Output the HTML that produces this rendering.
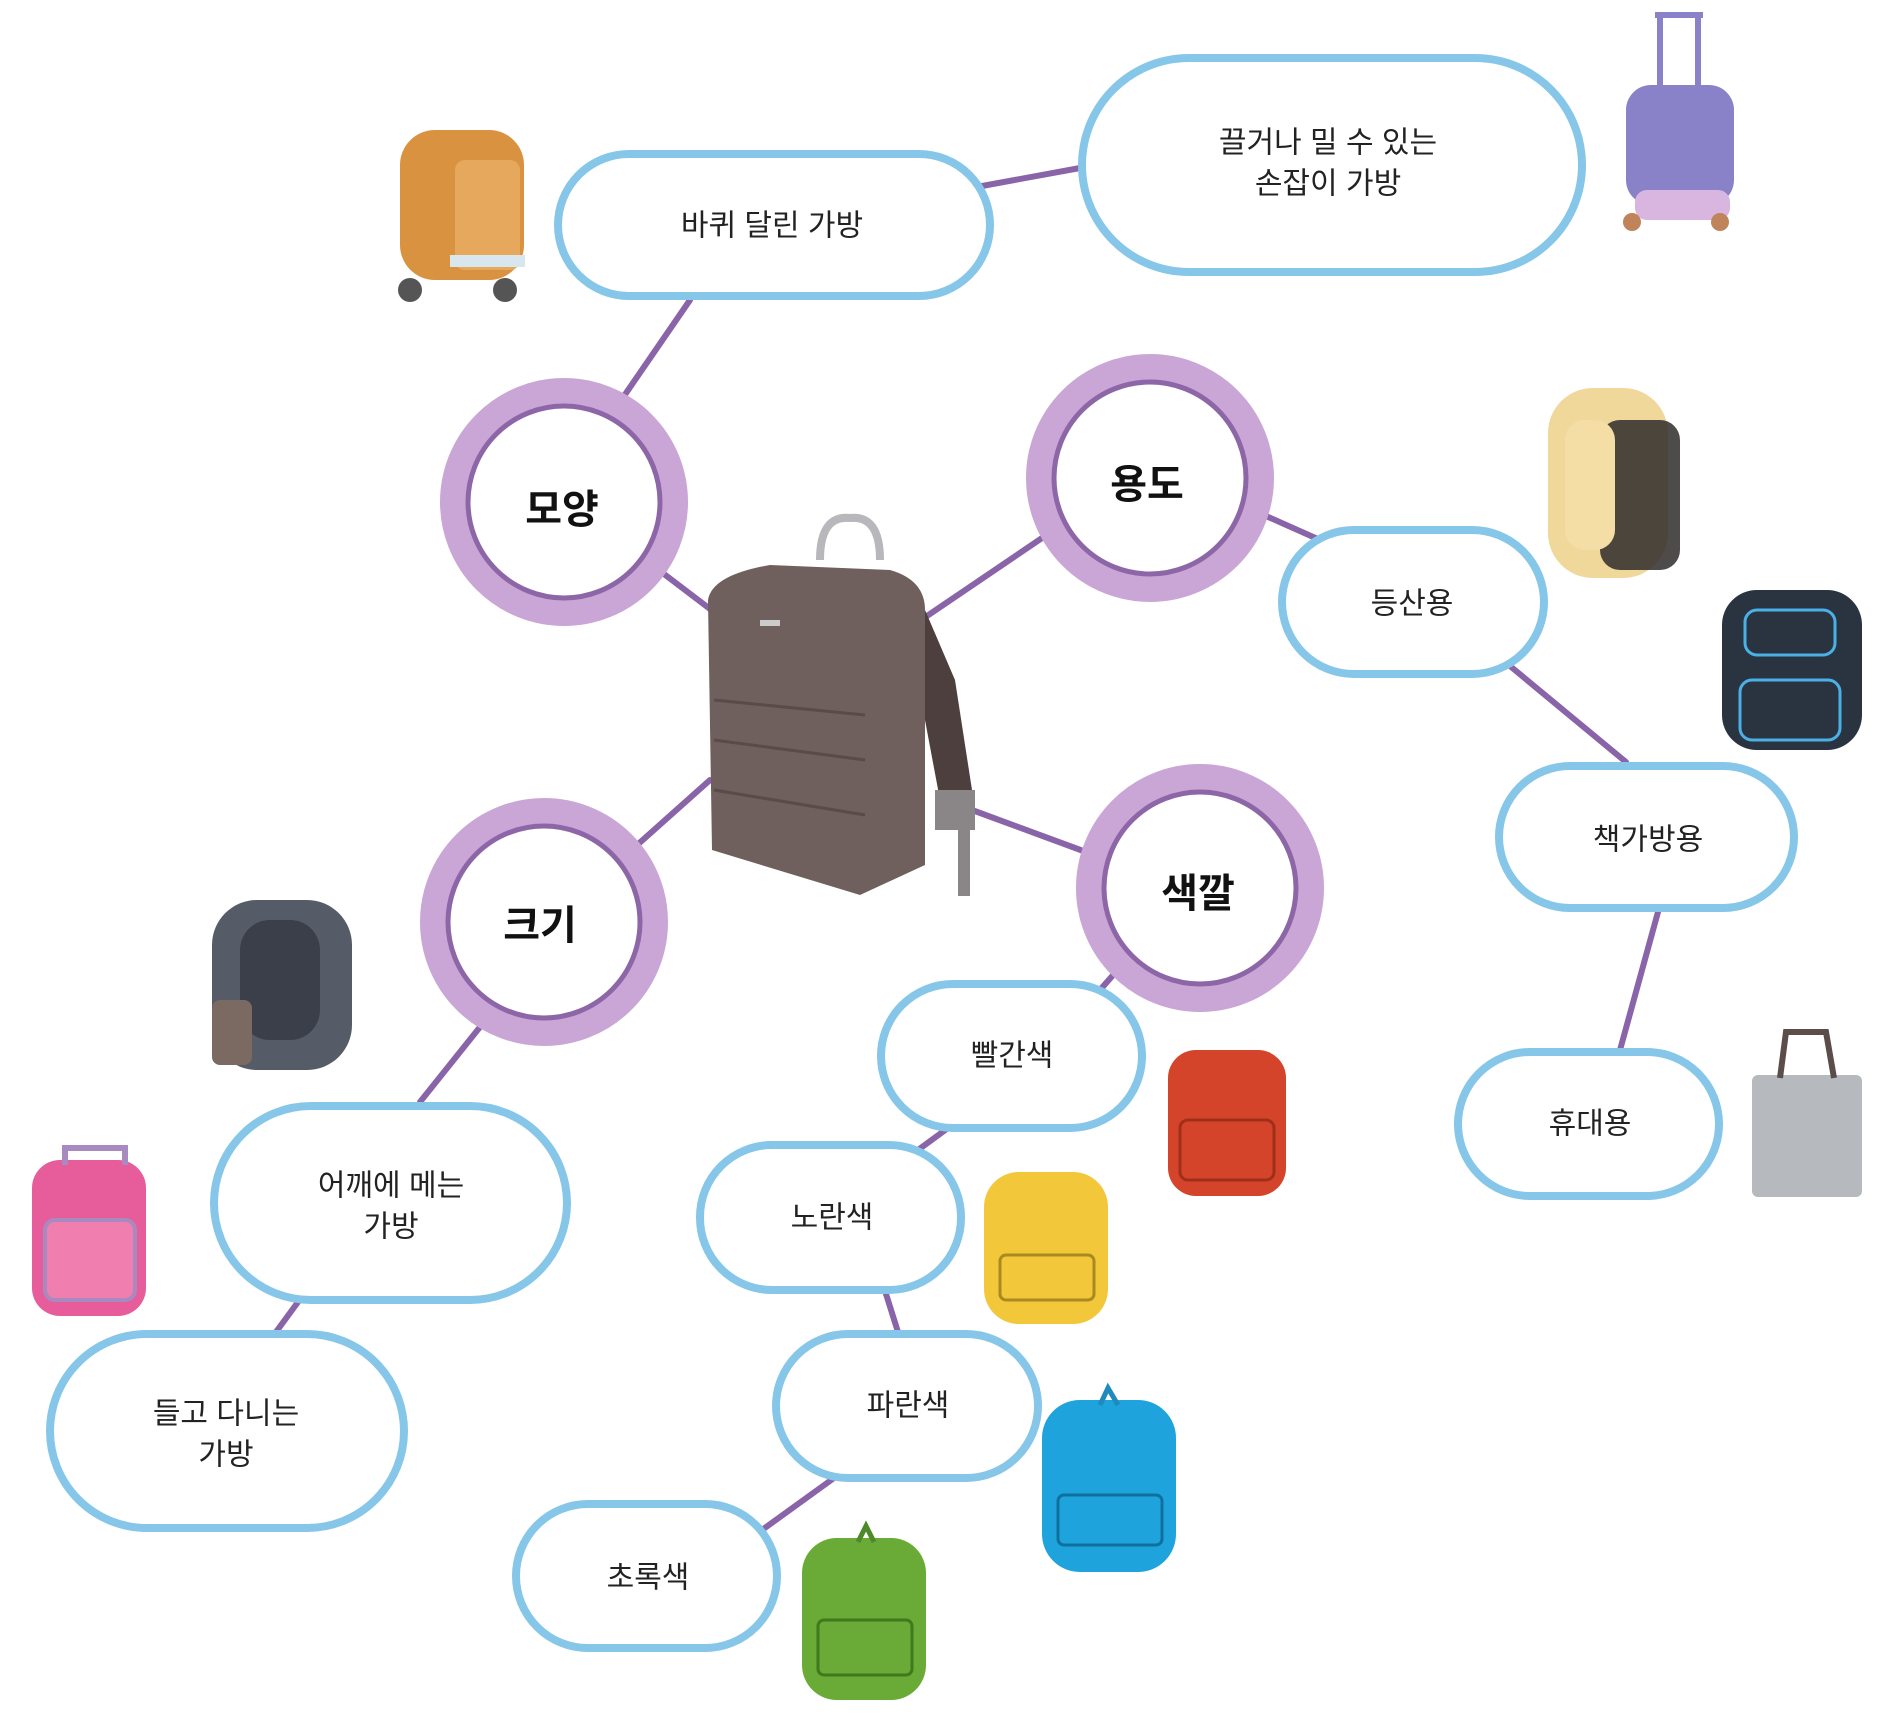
<!DOCTYPE html>
<html><head><meta charset="utf-8"><style>
html,body{margin:0;padding:0;background:#fff;}
svg{display:block;}
text{font-family:"Liberation Sans","Noto Sans CJK KR",sans-serif;fill:#222;text-anchor:middle;dominant-baseline:central;}
.t{font-size:30px;}
.b{font-size:40px;font-weight:bold;fill:#111;}
.pill{fill:#fff;stroke:#86c6e8;stroke-width:8;}
.pill2{fill:none;stroke:#d9eef8;stroke-width:3;}
.ln{stroke:#8a64a8;stroke-width:6;stroke-linecap:round;}
</style></head><body>
<svg width="1881" height="1716" viewBox="0 0 1881 1716" xmlns="http://www.w3.org/2000/svg">
<defs>
<g id="ring">
<circle r="110" fill="#fff" stroke="#c9a6d6" stroke-width="28"/>
<circle r="96" fill="none" stroke="#8d66a8" stroke-width="5"/>
<circle r="88" fill="#fff"/>
</g>
</defs>
<!-- connectors -->
<line class="ln" x1="624" y1="396" x2="690" y2="300"/>
<line class="ln" x1="982" y1="186" x2="1080" y2="168"/>
<line class="ln" x1="664" y1="574" x2="714" y2="612"/>
<line class="ln" x1="1042" y1="538" x2="924" y2="618"/>
<line class="ln" x1="1266" y1="516" x2="1320" y2="540"/>
<line class="ln" x1="1510" y1="666" x2="1626" y2="762"/>
<line class="ln" x1="1658" y1="912" x2="1620" y2="1050"/>
<line class="ln" x1="710" y1="780" x2="636" y2="846"/>
<line class="ln" x1="972" y1="810" x2="1086" y2="852"/>
<line class="ln" x1="1114" y1="974" x2="1100" y2="990"/>
<line class="ln" x1="948" y1="1128" x2="918" y2="1150"/>
<line class="ln" x1="886" y1="1294" x2="898" y2="1332"/>
<line class="ln" x1="834" y1="1478" x2="762" y2="1530"/>
<line class="ln" x1="480" y1="1027" x2="420" y2="1102"/>
<line class="ln" x1="298" y1="1302" x2="276" y2="1332"/>

<!-- pills -->
<rect class="pill" x="558" y="154" width="432" height="142" rx="71"/>
<rect class="pill" x="1082" y="58" width="500" height="214" rx="107"/>
<rect class="pill" x="1282" y="530" width="262" height="144" rx="72"/>
<rect class="pill" x="1499" y="766" width="295" height="142" rx="71"/>
<rect class="pill" x="1458" y="1052" width="261" height="144" rx="72"/>
<rect class="pill" x="881" y="984" width="261" height="144" rx="72"/>
<rect class="pill" x="700" y="1145" width="261" height="145" rx="72"/>
<rect class="pill" x="776" y="1334" width="262" height="144" rx="72"/>
<rect class="pill" x="516" y="1504" width="261" height="144" rx="72"/>
<rect class="pill" x="214" y="1106" width="353" height="194" rx="97"/>
<rect class="pill" x="50" y="1334" width="354" height="194" rx="97"/>

<!-- rings -->
<use href="#ring" x="564" y="502"/>
<use href="#ring" x="1150" y="478"/>
<use href="#ring" x="544" y="922"/>
<use href="#ring" x="1200" y="888"/>

<!-- central bag -->
<path d="M820 560 Q820 515 850 518 Q880 515 880 560" fill="none" stroke="#b8b8bc" stroke-width="8"/>
<path d="M708 600 Q712 575 770 565 L890 570 Q925 580 925 610 L925 865 L860 895 L712 850 Z" fill="#6f5f5d"/>
<path d="M925 610 L955 680 L972 790 L940 800 L925 720 Z" fill="#4d3f3e"/>
<rect x="935" y="790" width="40" height="40" fill="#8a8586"/>
<rect x="958" y="830" width="12" height="66" fill="#8a8586"/>
<line x1="714" y1="700" x2="865" y2="715" stroke="#5a4b4a" stroke-width="3"/>
<line x1="714" y1="740" x2="865" y2="760" stroke="#5a4b4a" stroke-width="3"/>
<line x1="714" y1="790" x2="865" y2="815" stroke="#5a4b4a" stroke-width="3"/>
<rect x="760" y="620" width="20" height="6" fill="#ccc"/>

<!-- small bags -->
<g>
<rect x="400" y="130" width="124" height="150" rx="35" fill="#d9923f"/>
<rect x="455" y="160" width="65" height="110" rx="10" fill="#e6a85c"/>
<rect x="450" y="255" width="75" height="12" fill="#d8e6ee"/>
<circle cx="410" cy="290" r="12" fill="#555"/><circle cx="505" cy="290" r="12" fill="#555"/>

<rect x="1626" y="85" width="108" height="120" rx="25" fill="#8a82c8"/>
<rect x="1635" y="190" width="95" height="30" rx="12" fill="#d8b6e0"/>
<line x1="1660" y1="15" x2="1660" y2="90" stroke="#8a82c8" stroke-width="6"/>
<line x1="1698" y1="15" x2="1698" y2="90" stroke="#8a82c8" stroke-width="6"/>
<line x1="1655" y1="15" x2="1703" y2="15" stroke="#8a82c8" stroke-width="6"/>
<circle cx="1632" cy="222" r="9" fill="#c0845a"/><circle cx="1720" cy="222" r="9" fill="#c0845a"/>

<rect x="1548" y="388" width="120" height="190" rx="45" fill="#f0d79a"/>
<rect x="1600" y="420" width="80" height="150" rx="20" fill="#2f2c2c" opacity="0.85"/>
<rect x="1565" y="420" width="50" height="130" rx="20" fill="#f4dea6"/>

<rect x="1722" y="590" width="140" height="160" rx="35" fill="#2a3440"/>
<rect x="1740" y="680" width="100" height="60" rx="12" fill="none" stroke="#4ab0e6" stroke-width="3"/>
<rect x="1745" y="610" width="90" height="45" rx="12" fill="none" stroke="#4ab0e6" stroke-width="3"/>

<rect x="212" y="900" width="140" height="170" rx="45" fill="#555c68"/>
<rect x="240" y="920" width="80" height="120" rx="30" fill="#3a3f4a"/>
<rect x="212" y="1000" width="40" height="65" rx="8" fill="#7a6a62"/>

<rect x="32" y="1160" width="114" height="156" rx="28" fill="#e75c9a"/>
<rect x="45" y="1220" width="90" height="80" rx="10" fill="#f07fb0" stroke="#a88ac0" stroke-width="4"/>
<path d="M65 1165 L65 1148 L125 1148 L125 1165" fill="none" stroke="#a88ac0" stroke-width="6"/>

<rect x="1168" y="1050" width="118" height="146" rx="28" fill="#d4442a"/>
<rect x="1180" y="1120" width="94" height="60" rx="8" fill="none" stroke="#a02f1a" stroke-width="3"/>
<rect x="984" y="1172" width="124" height="152" rx="35" fill="#f2c83a"/>
<rect x="1000" y="1255" width="94" height="45" rx="6" fill="none" stroke="#a88a20" stroke-width="3"/>
<rect x="1042" y="1400" width="134" height="172" rx="38" fill="#1fa3dc"/>
<rect x="1058" y="1495" width="104" height="50" rx="6" fill="none" stroke="#10709c" stroke-width="3"/>
<path d="M1100 1405 L1108 1388 L1118 1405" fill="none" stroke="#1f8bbd" stroke-width="5"/>
<rect x="802" y="1538" width="124" height="162" rx="35" fill="#6aaa36"/>
<rect x="818" y="1620" width="94" height="55" rx="6" fill="none" stroke="#3f7a1c" stroke-width="3"/>
<path d="M858 1542 L866 1526 L874 1542" fill="none" stroke="#4f8a2a" stroke-width="5"/>

<rect x="1752" y="1075" width="110" height="122" rx="6" fill="#b6b9bd"/>
<path d="M1780 1078 L1786 1032 L1826 1032 L1834 1078" fill="none" stroke="#5a4d4a" stroke-width="6"/>
</g>

<!-- texts -->
<text class="t" x="772" y="226">바퀴 달린 가방</text>
<text class="t" x="1328" y="143">끌거나 밀 수 있는</text>
<text class="t" x="1328" y="184">손잡이 가방</text>
<text class="b" x="562" y="510">모양</text>
<text class="b" x="1147" y="485">용도</text>
<text class="b" x="540" y="926">크기</text>
<text class="b" x="1198" y="894">색깔</text>
<text class="t" x="1412" y="604">등산용</text>
<text class="t" x="1648" y="840">책가방용</text>
<text class="t" x="1590" y="1124">휴대용</text>
<text class="t" x="1012" y="1056">빨간색</text>
<text class="t" x="832" y="1218">노란색</text>
<text class="t" x="908" y="1406">파란색</text>
<text class="t" x="648" y="1578">초록색</text>
<text class="t" x="391" y="1186">어깨에 메는</text>
<text class="t" x="391" y="1227">가방</text>
<text class="t" x="226" y="1414">들고 다니는</text>
<text class="t" x="226" y="1455">가방</text>
</svg>
</body></html>
